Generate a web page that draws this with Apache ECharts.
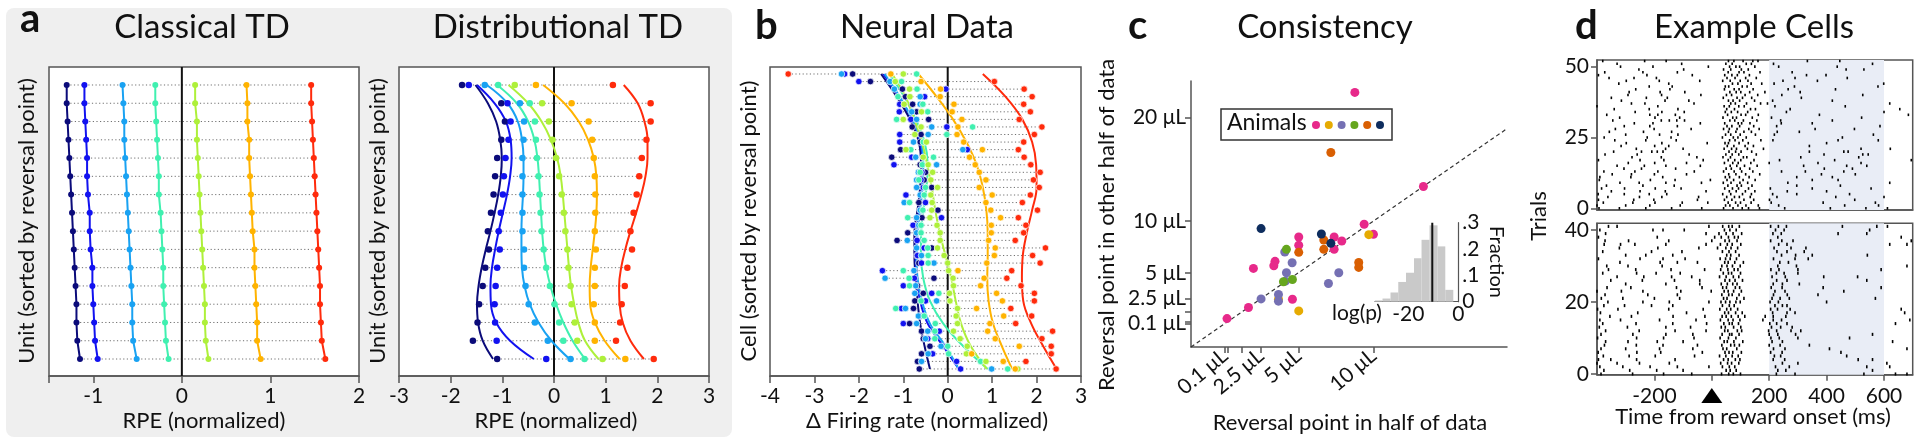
<!DOCTYPE html>
<html>
<head>
<meta charset="utf-8">
<title>Distributional TD figure</title>
<script src="https://cdn.jsdelivr.net/npm/echarts@6/dist/echarts.min.js"></script>
<style>
  html, body { margin: 0; padding: 0; background: #fff; }
  #main { width: 1920px; height: 444px; }
</style>
</head>
<body>
<div id="main"></div>
<script>
var FONT = 'Lato';
var INK = '#111';
var AXIS = '#555';

// jet-like colours, smallest to largest reward
var jetColors = ['#0b0b7a', '#1212f0', '#19a2f2', '#40f0b0', '#aef03a', '#ffb300', '#ff2b0c'];

// a: Classical TD, one list per reward size, top unit first
var classicalTD = [
    [-1.30, -1.30, -1.29, -1.28, -1.27, -1.26, -1.25, -1.24, -1.23, -1.22, -1.21, -1.20, -1.19, -1.19, -1.18, -1.15],
    [-1.10, -1.10, -1.09, -1.08, -1.07, -1.07, -1.06, -1.04, -1.04, -1.03, -1.01, -1.01, -1.00, -0.99, -0.98, -0.95],
    [-0.67, -0.66, -0.65, -0.65, -0.64, -0.63, -0.62, -0.61, -0.60, -0.59, -0.58, -0.57, -0.56, -0.56, -0.55, -0.51],
    [-0.30, -0.30, -0.29, -0.28, -0.27, -0.26, -0.26, -0.24, -0.23, -0.22, -0.21, -0.21, -0.20, -0.19, -0.18, -0.15],
    [0.15, 0.15, 0.17, 0.17, 0.18, 0.19, 0.20, 0.21, 0.22, 0.23, 0.24, 0.25, 0.26, 0.26, 0.27, 0.30],
    [0.73, 0.74, 0.74, 0.76, 0.76, 0.77, 0.78, 0.79, 0.80, 0.82, 0.82, 0.83, 0.84, 0.85, 0.85, 0.89],
    [1.46, 1.46, 1.47, 1.48, 1.49, 1.50, 1.51, 1.52, 1.53, 1.54, 1.55, 1.56, 1.56, 1.57, 1.58, 1.62]
];

// a: Distributional TD points and fitted curves
var distributionalTD = [
    [-1.78, -1.02, -0.95, -1.02, -1.10, -1.14, -1.17, -1.22, -1.28, -1.26, -1.33, -1.38, -1.45, -1.48, -1.57, -1.10],
    [-1.65, -0.90, -0.84, -0.88, -0.94, -0.97, -0.99, -1.03, -1.07, -1.05, -1.10, -1.13, -1.15, -1.14, -1.11, -0.15],
    [-1.34, -0.66, -0.58, -0.59, -0.61, -0.61, -0.61, -0.61, -0.61, -0.58, -0.58, -0.55, -0.49, -0.37, -0.12, 0.32],
    [-1.08, -0.47, -0.37, -0.35, -0.33, -0.30, -0.28, -0.26, -0.24, -0.20, -0.15, -0.08, 0.01, 0.10, 0.18, 0.59],
    [-0.76, -0.23, -0.10, -0.03, 0.04, 0.10, 0.15, 0.19, 0.22, 0.26, 0.28, 0.32, 0.34, 0.40, 0.45, 0.94],
    [-0.35, 0.34, 0.67, 0.74, 0.77, 0.79, 0.80, 0.80, 0.79, 0.81, 0.79, 0.79, 0.77, 0.79, 0.79, 1.38],
    [1.14, 1.87, 1.87, 1.79, 1.70, 1.65, 1.60, 1.54, 1.48, 1.51, 1.42, 1.37, 1.31, 1.28, 1.20, 1.93]
];
var distributionalFit = [
    [-1.52, -1.28, -1.12, -1.04, -1.01, -1.03, -1.08, -1.15, -1.23, -1.32, -1.40, -1.46, -1.49, -1.47, -1.38, -1.18],
    [-1.49, -1.15, -0.93, -0.84, -0.82, -0.85, -0.91, -0.99, -1.07, -1.14, -1.20, -1.23, -1.22, -1.12, -0.85, -0.39],
    [-1.30, -0.90, -0.70, -0.62, -0.59, -0.59, -0.60, -0.62, -0.63, -0.63, -0.62, -0.57, -0.47, -0.30, -0.05, 0.30],
    [-1.10, -0.72, -0.50, -0.38, -0.32, -0.29, -0.27, -0.25, -0.23, -0.20, -0.15, -0.07, 0.04, 0.18, 0.36, 0.60],
    [-0.88, -0.50, -0.24, -0.06, 0.06, 0.13, 0.17, 0.20, 0.23, 0.26, 0.29, 0.33, 0.39, 0.47, 0.60, 0.86],
    [-0.21, 0.20, 0.48, 0.66, 0.77, 0.82, 0.83, 0.82, 0.79, 0.75, 0.71, 0.69, 0.70, 0.79, 0.98, 1.27],
    [1.35, 1.62, 1.75, 1.81, 1.81, 1.77, 1.69, 1.59, 1.48, 1.38, 1.30, 1.26, 1.27, 1.33, 1.48, 1.74]
];

// b: Neural data, 40 cells, top cell first
var neuralData = [
    [-2.14, -1.74, -1.02, -0.95, -0.79, -0.70, -0.43, -0.80, -0.60, -0.62, -1.06, -1.26, -0.62, -0.50, -0.53, -0.36, -0.59, -0.65, -0.22, -0.58,
     -0.70, -0.90, -1.14, -0.36, -0.70, -0.65, -0.74, -0.31, -0.68, -0.55, -0.74, -0.77, -0.60, -0.86, -0.59, -0.55, -0.40, -0.59, -0.68, -0.64],
    [-2.32, -2.00, -0.04, -0.52, -1.08, -1.09, -0.83, -0.02, -1.08, -1.08, 0.44, -0.81, -1.21, -0.58, -0.60, -0.55, -0.94, -0.50, -0.58, -0.14,
     -0.78, -0.69, -0.69, -0.53, -0.68, -0.59, -1.47, -0.75, -1.00, -0.36, -0.50, -1.04, -0.62, -1.00, -0.19, -0.45, -0.10, -0.34, 0.20, 0.29],
    [-2.39, -1.30, -1.20, -0.62, -0.62, -0.81, -0.70, -0.36, -0.44, -0.77, 0.34, -0.72, -0.25, -0.66, -0.70, -0.70, -0.62, -0.98, -0.62, -0.70,
     -0.65, -0.70, -0.91, -0.70, -0.59, -0.31, -0.76, -1.41, -0.72, -0.74, -0.25, -0.95, -0.66, -0.70, -0.45, -0.50, -0.15, -0.44, -0.59, 0.99],
    [-0.70, -1.04, -0.69, -1.12, -0.56, -0.45, -1.15, 0.56, -0.02, -0.55, -0.83, -0.32, -0.57, -0.62, -0.65, -0.50, -0.53, -0.86, -0.56, -0.90,
     -0.60, -0.60, -0.53, -0.45, -0.44, -0.44, -1.00, -0.87, -0.86, -0.20, -0.60, -1.17, -0.53, -0.28, -0.29, -0.29, 0.00, 0.02, 0.74, 1.35],
    [-1.00, -1.18, -0.86, -0.85, -0.98, -0.59, -1.00, -0.60, -0.74, -0.48, -0.94, -0.55, -0.44, -0.34, -0.38, -0.23, -0.38, -0.35, -0.36, -0.40,
     -0.24, -0.17, -0.17, -0.23, -0.08, 0.00, 0.02, 0.12, 0.13, 0.04, 0.05, 0.22, 0.19, 0.22, 0.13, 0.28, 0.44, 0.42, 0.86, 1.58],
    [-1.28, -0.60, -0.16, -0.17, 0.14, 0.10, 0.32, 0.23, 0.21, 0.36, 0.78, 0.49, 0.62, 0.71, 0.86, 0.71, 1.00, 0.86, 0.97, 1.19,
     0.98, 0.98, 0.92, 1.07, 1.05, 0.88, 0.23, 0.82, 0.74, 1.10, 1.23, 0.65, 1.26, 0.95, 0.90, 1.07, 1.61, 0.54, 1.25, 1.52],
    [-3.59, 1.05, 1.72, 1.90, 1.71, 1.86, 1.61, 2.12, 1.95, 1.71, 1.59, 1.72, 1.87, 2.08, 1.93, 2.06, 1.86, 1.68, 2.02, 1.59,
     1.76, 1.71, 1.52, 2.20, 1.91, 2.08, 1.44, 1.33, 1.65, 1.95, 1.95, 1.42, 1.89, 1.53, 2.36, 2.12, 2.33, 2.33, 1.76, 2.44]
];
var neuralFitRows = [0, 3, 6, 9, 12, 15, 18, 21, 24, 27, 30, 33, 36, 39];
var neuralFit = [
    [-1.50, -1.15, -0.85, -0.65, -0.60, -0.62, -0.68, -0.75, -0.75, -0.72, -0.68, -0.62, -0.52, -0.40],
    [-1.45, -1.10, -0.80, -0.62, -0.56, -0.58, -0.64, -0.70, -0.72, -0.70, -0.62, -0.45, -0.10, 0.25],
    [-1.42, -1.08, -0.80, -0.60, -0.55, -0.57, -0.62, -0.68, -0.70, -0.68, -0.58, -0.40, -0.05, 0.25],
    [-1.32, -0.98, -0.72, -0.52, -0.45, -0.48, -0.55, -0.60, -0.60, -0.55, -0.40, -0.10, 0.35, 0.90],
    [-1.25, -0.95, -0.75, -0.58, -0.46, -0.36, -0.28, -0.18, -0.05, 0.08, 0.18, 0.30, 0.52, 0.88],
    [-0.66, -0.25, 0.12, 0.42, 0.65, 0.79, 0.87, 0.90, 0.90, 0.89, 0.92, 1.02, 1.22, 1.45],
    [0.79, 1.30, 1.68, 1.90, 1.99, 2.00, 1.90, 1.78, 1.69, 1.67, 1.70, 1.88, 2.15, 2.45]
];

// c: reversal points (uL) in one half vs the other half, per animal
var animalColors = ['#e7298a', '#e6ab02', '#7570b3', '#66a61e', '#d95f02', '#0e2d5e'];
var animalPink = [[8.76, 22.4], [13.33, 13.32], [9.38, 9.68], [10.0, 8.71], [7.38, 8.45], [7.89, 8.06], [7.38, 7.26], [5.02, 8.45],
    [5.02, 7.65], [3.44, 6.10], [3.36, 5.68], [2.0, 5.42], [4.6, 2.45], [1.67, 1.65], [0.24, 0.58]];
var animalYellow = [[9.69, 8.68], [3.67, 2.45], [5.02, 1.32]];
var animalLavender = [[4.09, 7.0], [4.58, 5.97], [4.2, 5.0], [4.13, 4.19], [7.69, 5.0], [7.0, 3.97], [3.67, 2.9], [3.67, 2.26], [2.51, 2.48]];
var animalGreen = [[4.2, 7.26], [4.0, 4.13], [4.6, 4.35]];
var animalOrange = [[7.16, 16.6], [6.69, 8.16], [6.69, 7.26], [5.02, 6.97], [9.02, 6.0], [9.02, 5.52]];
var animalNavy = [[2.51, 9.26], [6.53, 8.74], [7.16, 7.84]];
var consistencyTicksX = [0.1, 0.3, 1.2, 2.5, 5, 10];
var consistencyLabelsX = [0.1, 2.5, 5, 10];
var consistencyTicksY = [0.1, 0.3, 1.2, 2.5, 5, 10, 20];
var consistencyLabelsY = [0.1, 2.5, 5, 10, 20];
var consistencyMin = -2.16;

// c inset: histogram of log(p)
var histEdges = [-33.3, -30.3, -27.1, -24.0, -20.9, -17.7, -14.7, -11.5, -8.3, -5.2, -2.0];
var histFraction = [0.005, 0.012, 0.035, 0.075, 0.11, 0.165, 0.235, 0.29, 0.21, 0.045];
var medianLogP = -10.4;

// d: spike times (ms) per trial, highest trial first
var rasterTop = [
    '-380 -234 -159 58 77 109 143 161 333 446',
    '-330 -105 49 71 120 138 215 560',
    '-318 -205 -12 62 84 97 150 233 437',
    '-254 -98 41 66 103 127 468 530',
    '-373 -240 -120 57 95 112 168 280',
    '-395 -226 -68 45 70 89 131 330 398',
    '-358 -271 -193 53 81 118 155 290 472',
    '-298 -183 -42 38 64 99 126 248 368',
    '-324 -150 72 91 137 174 217 599',
    '-404 -218 -138 47 59 106 123 288 579',
    '-265 -146 44 78 95 144 266 431',
    '-288 -180 -94 63 85 101 132 185 308',
    '-292 -175 -38 51 69 116 160 244 526',
    '-350 -228 -155 40 88 107 139 312',
    '-315 -163 -80 58 74 97 149 212 420',
    '-280 -233 -62 66 82 121 170 194 620',
    '-400 -188 43 61 94 113 220 465',
    '-340 -218 -118 52 79 135 152 273 655',
    '-267 -174 -96 47 68 90 125 260 600',
    '-366 -216 -188 -127 55 102 118 162 375 685',
    '-321 -198 -112 39 73 86 141 208 522',
    '-345 -176 -148 -122 -95 63 80 110 157 240 420',
    '-270 -205 -40 45 92 104 133 242 350',
    '-305 -216 -120 53 70 97 146 226 586',
    '-336 -201 -72 41 61 88 129 165 360 497',
    '-357 -238 -140 58 84 112 138 228 305',
    '-300 -182 -118 48 66 99 152 218 563',
    '-375 -225 -142 37 75 91 120 455',
    '-338 -230 -124 62 81 108 171 213 440 580',
    '-298 -174 -16 46 58 95 127 400',
    '-316 -199 -150 54 77 116 145 340',
    '-263 -161 -100 43 69 86 124 180 520 622',
    '-342 -245 -209 -190 -170 60 83 102 139 340 460 475',
    '-372 -260 -79 49 71 94 155 391 526 545',
    '-278 -176 -52 39 65 110 122 310 512',
    '-395 -250 -167 -30 57 80 101 147 236 428 695',
    '-291 -199 -88 44 73 92 136 200 370 520',
    '-330 -235 -160 -40 64 87 114 158 320 470 540',
    '-306 -245 -126 50 68 99 132 392 490',
    '-376 -268 -188 -61 41 78 104 143 243 326 460',
    '-347 -280 -200 -88 59 84 118 167 382 500',
    '-390 -282 -171 47 62 96 130 296 420',
    '-392 -214 -128 -5 53 76 109 151 350 440',
    '-320 -253 -160 -36 40 67 98 125 265 620',
    '-367 -240 -131 56 88 103 140 296 448',
    '-384 -304 -197 -107 45 72 93 128 204 350 555',
    '-350 -250 -162 -20 61 85 117 150 263 400',
    '-396 -305 -218 -157 38 66 107 138 212 296 480',
    '-362 -252 -174 -46 52 79 96 134 227 432 600',
    '-395 -272 -202 -50 44 70 112 146 201 498',
    '-378 -275 -198 -103 -14 57 83 100 137 207 388 570',
    '-400 -300 -216 -110 48 63 91 119 162 233 463 581',
    '-393 -322 -230 -140 -35 41 74 106 128 166 254 413 537 612'
];
var rasterBottom = [
    '-360 -330 -10 38 59 71 96 205 232 260 455 575 612',
    '-390 -205 -170 -96 44 63 85 222 252 550',
    '-370 -20 25 50 74 104 213 242 440 540',
    '-395 -190 10 33 58 79 92 230 660',
    '-372 -290 -150 0 46 61 88 205 244 283 695',
    '-375 -318 -268 -160 -20 30 54 71 101 233 262 620 680',
    '-322 -188 -45 20 49 67 90 217 276 328',
    '-380 -210 -104 37 60 83 227 262 322',
    '-300 -230 -136 52 66 95 243 292 350 542',
    '-395 -250 -170 -93 29 48 64 86 215 290 336',
    '-320 -180 -120 -50 45 57 80 110 237 267',
    '-366 -292 -173 35 53 72 99 230 295 680',
    '-360 -265 -142 -25 31 56 78 91 206 234 300 590',
    '-380 -262 -194 -110 40 58 69 100 225 252 300',
    '-330 -237 -140 -70 27 50 75 94 210 256 390 508',
    '-352 -242 -130 -42 46 62 81 107 226 262 540',
    '-300 -160 -42 33 54 73 88 214 246 305',
    '-365 -282 -123 -34 38 51 82 97 207 245 388 590',
    '-400 -315 -240 -108 -2 43 57 76 103 220 255 460',
    '-372 -223 -120 35 59 71 95 215 263 370',
    '-385 -310 -200 -112 41 53 87 112 210 238 270 570',
    '-362 -240 -148 -10 32 48 63 84 99 203 232 400',
    '-376 -304 -210 -136 37 61 78 220 246 262',
    '-398 -327 -150 -30 28 52 66 90 205 229 273 660',
    '-388 -258 -88 45 58 83 106 212 262 290 672',
    '-355 -280 -135 -24 36 50 68 92 115 186 214 258',
    '-390 -318 -182 -55 30 57 74 98 178 214 243 690',
    '-380 -264 -136 -18 42 61 71 93 202 226 262 640',
    '-392 -294 -160 -74 33 47 76 101 208 240 280',
    '-370 -253 -128 -20 45 56 89 104 198 226 276 310',
    '-386 -275 -160 -66 36 62 70 95 200 230 292 560',
    '-398 -262 -168 -62 29 58 84 206 235 300 480',
    '-370 -292 -190 -100 43 54 77 108 210 246 630',
    '-374 -263 -170 -50 35 66 79 96 200 238 340',
    '-386 -300 -182 -66 39 52 87 215 255 410 680',
    '-396 -261 -178 -33 46 60 73 103 205 245 450',
    '-378 -288 -197 -60 27 49 71 92 218 240 470',
    '-395 -352 -262 -128 41 57 82 98 214 254 510 560',
    '-400 -330 -252 -148 31 55 69 94 246 300 610',
    '-390 -310 -215 -120 -10 37 61 80 222 270 540 620',
    '-376 -286 -192 -100 50 64 85 230 258 560',
    '-386 -276 -168 -70 34 59 75 100 225 290 530 640 680'
];
var shadedWindow = [200, 600];
var rewardOnset = 0;

// ---------- helpers ----------
function rowSpans(cols) {
    var out = [];
    for (var r = 0; r < cols[0].length; r++) {
        var lo = Infinity, hi = -Infinity;
        for (var c = 0; c < cols.length; c++) {
            lo = Math.min(lo, cols[c][r]);
            hi = Math.max(hi, cols[c][r]);
        }
        out.push([lo, hi, r]);
    }
    return out;
}
function pairs(vals, rows) {
    return vals.map(function (v, i) { return [v, rows ? rows[i] : i]; });
}
function dottedRows(cols, ax) {
    return {
        type: 'custom', xAxisIndex: ax, yAxisIndex: ax, z: 1, silent: true,
        encode: {x: [0, 1], y: 2},
        data: rowSpans(cols),
        renderItem: function (params, api) {
            var a = api.coord([api.value(0), api.value(2)]);
            var b = api.coord([api.value(1), api.value(2)]);
            return {
                type: 'line',
                shape: {x1: a[0], y1: a[1], x2: b[0], y2: b[1]},
                style: {stroke: '#707070', lineWidth: 1, lineDash: [1.2, 2.4]}
            };
        }
    };
}
function zeroLine(ax) {
    return {
        type: 'custom', xAxisIndex: ax, yAxisIndex: ax, z: 2, silent: true,
        data: [[0, 0]],
        renderItem: function (params, api) {
            var p = api.coord([0, 0]);
            var cs = params.coordSys;
            return {
                type: 'line',
                shape: {x1: p[0], y1: cs.y, x2: p[0], y2: cs.y + cs.height},
                style: {stroke: INK, lineWidth: 2}
            };
        }
    };
}
function rasterPoints(list) {
    var pts = [];
    list.forEach(function (s, i) {
        var trial = list.length - 1 - i;
        s.split(' ').forEach(function (t) { pts.push([Number(t), trial]); });
    });
    return pts;
}
function boxGrid(left, top, width, height) {
    return {
        left: left, top: top, width: width, height: height,
        show: true, backgroundColor: '#fff', borderColor: AXIS, borderWidth: 1.5,
        containLabel: false, outerBoundsMode: 'none'
    };
}
function text(x, y, s, size, extra) {
    var el = {
        type: 'text', x: x, y: y, z: 50,
        style: {
            text: s, fontFamily: FONT, fontSize: size, fill: INK,
            align: 'center', verticalAlign: 'middle',
            textAlign: 'center', textVerticalAlign: 'middle'
        }
    };
    if (extra) {
        for (var k in extra) {
            if (k === 'style') {
                for (var j in extra.style) { el.style[j] = extra.style[j]; }
            } else {
                el[k] = extra[k];
            }
        }
    }
    return el;
}
var tickStyle = {color: AXIS, width: 1.5};
var labelStyle = {color: INK, fontSize: 21, fontFamily: FONT};

// ---------- series ----------
var series = [];

// a, classical
series.push(dottedRows(classicalTD, 0), zeroLine(0));
classicalTD.forEach(function (col, c) {
    series.push({
        type: 'line', xAxisIndex: 0, yAxisIndex: 0, z: 4,
        data: pairs(col), symbol: 'circle', symbolSize: 6,
        lineStyle: {color: jetColors[c], width: 2},
        itemStyle: {color: jetColors[c]}
    });
});

// a, distributional
series.push(dottedRows(distributionalTD, 1), zeroLine(1));
distributionalFit.forEach(function (col, c) {
    series.push({
        type: 'line', xAxisIndex: 1, yAxisIndex: 1, z: 3, smooth: 0.4,
        data: pairs(col), showSymbol: false, silent: true,
        lineStyle: {color: jetColors[c], width: 2}
    });
});
distributionalTD.forEach(function (col, c) {
    series.push({
        type: 'scatter', xAxisIndex: 1, yAxisIndex: 1, z: 4,
        data: pairs(col), symbolSize: 6.5,
        itemStyle: {color: jetColors[c], opacity: 1}
    });
});

// b, neural data
series.push(dottedRows(neuralData, 2), zeroLine(2));
neuralFit.forEach(function (col, c) {
    series.push({
        type: 'line', xAxisIndex: 2, yAxisIndex: 2, z: 3, smooth: 0.4,
        data: pairs(col, neuralFitRows), showSymbol: false, silent: true,
        lineStyle: {color: jetColors[c], width: 2}
    });
});
neuralData.forEach(function (col, c) {
    series.push({
        type: 'scatter', xAxisIndex: 2, yAxisIndex: 2, z: 4,
        data: pairs(col), symbolSize: 6.5,
        itemStyle: {color: jetColors[c], borderColor: '#fff', borderWidth: 0.7, opacity: 1}
    });
});

// c, consistency
var consistencyMax = 18.9;
series.push({
    type: 'line', xAxisIndex: 3, yAxisIndex: 3, z: 3, silent: true, showSymbol: false,
    data: [[consistencyMin, consistencyMin], [consistencyMax, consistencyMax]],
    lineStyle: {color: '#333', width: 1.2, type: [4, 3]}
});
[animalPink, animalYellow, animalLavender, animalGreen, animalOrange, animalNavy].forEach(function (pts, a) {
    series.push({
        type: 'scatter', xAxisIndex: 3, yAxisIndex: 3, z: 4,
        data: pts, symbolSize: 9,
        itemStyle: {color: animalColors[a], opacity: 1}
    });
});

// c inset
series.push({
    type: 'custom', xAxisIndex: 4, yAxisIndex: 4, z: 3, silent: true,
    encode: {x: [0, 1], y: 2},
    data: histFraction.map(function (f, i) { return [histEdges[i], histEdges[i + 1], f]; }),
    renderItem: function (params, api) {
        var a = api.coord([api.value(0), api.value(2)]);
        var b = api.coord([api.value(1), 0]);
        return {type: 'rect', shape: {x: a[0], y: a[1], width: b[0] - a[0], height: b[1] - a[1]},
            style: {fill: '#c9c9c9'}};
    }
});
series.push({
    type: 'line', xAxisIndex: 4, yAxisIndex: 4, z: 4, silent: true, showSymbol: false,
    data: [[medianLogP, 0], [medianLogP, 0.3]],
    lineStyle: {color: INK, width: 2}
});

// d, rasters
function rasterSeries(list, ax, h) {
    return {
        type: 'scatter', xAxisIndex: ax, yAxisIndex: ax, z: 4, silent: true,
        data: rasterPoints(list), symbol: 'rect', symbolSize: [1.6, h],
        itemStyle: {color: '#000', opacity: 1},
        markArea: {
            silent: true, itemStyle: {color: '#e9edf6'},
            data: [[{xAxis: shadedWindow[0]}, {xAxis: shadedWindow[1]}]]
        }
    };
}
series.push(rasterSeries(rasterTop, 5, 2.6), rasterSeries(rasterBottom, 6, 3.1));

// ---------- axes ----------
function valueX(grid, min, max, ticks, labels, margin) {
    return {
        gridIndex: grid, type: 'value', min: min, max: max, splitLine: {show: false},
        axisLine: {show: true, onZero: false, lineStyle: tickStyle},
        axisTick: {show: true, length: 7, customValues: ticks, lineStyle: tickStyle},
        axisLabel: Object.assign({customValues: labels, margin: margin}, labelStyle)
    };
}

var xAxis = [
    valueX(0, -1.5, 2, [-1.5, -1, 0, 1, 2], [-1, 0, 1, 2], 10),
    valueX(1, -3, 3, [-3, -2, -1, 0, 1, 2, 3], [-3, -2, -1, 0, 1, 2, 3], 10),
    valueX(2, -4, 3, [-4, -3, -2, -1, 0, 1, 2, 3], [-4, -3, -2, -1, 0, 1, 2, 3], 10),
    {gridIndex: 3, type: 'value', min: consistencyMin, max: consistencyMax, splitLine: {show: false},
        axisLine: {show: true, onZero: false, lineStyle: tickStyle},
        axisTick: {show: true, length: 6, customValues: consistencyTicksX, lineStyle: tickStyle},
        axisLabel: Object.assign({customValues: consistencyLabelsX, rotate: 40, margin: 6,
            formatter: function (v) { return v + ' μL'; }}, labelStyle)},
    {gridIndex: 4, type: 'value', min: -33.3, max: 0, splitLine: {show: false},
        axisLine: {show: true, onZero: false, lineStyle: {color: AXIS, width: 1.2}},
        axisTick: {show: false},
        axisLabel: Object.assign({customValues: [-20, 0], margin: 2}, labelStyle)},
    {gridIndex: 5, type: 'value', min: -400, max: 700, splitLine: {show: false},
        axisLine: {show: true, onZero: false, lineStyle: tickStyle}, axisTick: {show: false}, axisLabel: {show: false}},
    {gridIndex: 6, type: 'value', min: -400, max: 700, splitLine: {show: false},
        axisLine: {show: true, onZero: false, lineStyle: tickStyle},
        axisTick: {show: true, length: 6, customValues: [-200, 0, 200, 400, 600], lineStyle: tickStyle},
        axisLabel: Object.assign({customValues: [-200, 200, 400, 600], margin: 11}, labelStyle)}
];

var yAxis = [
    {gridIndex: 0, type: 'value', inverse: true, min: -0.985, max: 15.93, show: false},
    {gridIndex: 1, type: 'value', inverse: true, min: -0.985, max: 15.93, show: false},
    {gridIndex: 2, type: 'value', inverse: true, min: -0.925, max: 39.93, show: false},
    {gridIndex: 3, type: 'value', min: consistencyMin, max: 23.5, splitLine: {show: false},
        axisLine: {show: true, onZero: false, lineStyle: tickStyle},
        axisTick: {show: true, length: 6, customValues: consistencyTicksY, lineStyle: tickStyle},
        axisLabel: Object.assign({customValues: consistencyLabelsY, margin: 5,
            formatter: function (v) { return v + ' μL'; }}, labelStyle)},
    {gridIndex: 4, type: 'value', position: 'right', min: 0, max: 0.3, splitLine: {show: false},
        axisLine: {show: true, onZero: false, lineStyle: {color: AXIS, width: 1.2}},
        axisTick: {show: false},
        axisLabel: Object.assign({customValues: [0, 0.1, 0.2, 0.3], margin: 4,
            formatter: function (v) { return v === 0 ? '0' : String(v).replace('0.', '.'); }}, labelStyle)},
    {gridIndex: 5, type: 'value', min: -0.6, max: 52.35, splitLine: {show: false},
        axisLine: {show: true, onZero: false, lineStyle: tickStyle},
        axisTick: {show: true, length: 6, customValues: [0, 25, 50], lineStyle: tickStyle},
        axisLabel: Object.assign({customValues: [0, 25, 50], margin: 8}, labelStyle)},
    {gridIndex: 6, type: 'value', min: -0.2, max: 41.86, splitLine: {show: false},
        axisLine: {show: true, onZero: false, lineStyle: tickStyle},
        axisTick: {show: true, length: 6, customValues: [0, 20, 40], lineStyle: tickStyle},
        axisLabel: Object.assign({customValues: [0, 20, 40], margin: 8}, labelStyle)}
];

var grid = [
    boxGrid(49, 67, 310, 309),
    boxGrid(399, 67, 310, 309),
    boxGrid(770, 67, 311, 309),
    {left: 1191, top: 81, width: 316, height: 266, show: false, outerBoundsMode: 'none'},
    {left: 1375, top: 222.7, width: 83.3, height: 79, show: false, outerBoundsMode: 'none'},
    boxGrid(1597, 60, 315.7, 150),
    boxGrid(1597, 223.3, 315.7, 151.4)
];

// ---------- texts and decorations ----------
var titleSize = 33, letterSize = 40, nameSize = 22;
var graphic = [
    {type: 'rect', id: 'bgA', z: -10, shape: {x: 6, y: 8, width: 726, height: 429, r: 8}, style: {fill: '#efefef'}},
    text(20, 19.5, 'a', letterSize, {id: 'la', style: {fontWeight: 'bold', align: 'left', textAlign: 'left'}}),
    text(755, 26, 'b', letterSize, {id: 'lb', style: {fontWeight: 'bold', align: 'left', textAlign: 'left'}}),
    text(1128, 26, 'c', letterSize, {id: 'lc', style: {fontWeight: 'bold', align: 'left', textAlign: 'left'}}),
    text(1575, 26, 'd', letterSize, {id: 'ld', style: {fontWeight: 'bold', align: 'left', textAlign: 'left'}}),
    text(202, 27, 'Classical TD', titleSize, {id: 't1'}),
    text(558, 27, 'Distributional TD', titleSize, {id: 't2'}),
    text(927, 27, 'Neural Data', titleSize, {id: 't3'}),
    text(1325, 27, 'Consistency', titleSize, {id: 't4'}),
    text(1754, 27, 'Example Cells', titleSize, {id: 't5'}),
    text(204, 421, 'RPE (normalized)', nameSize, {id: 'n1'}),
    text(556, 421, 'RPE (normalized)', nameSize, {id: 'n2'}),
    text(927, 421, 'Δ Firing rate (normalized)', nameSize, {id: 'n3'}),
    text(1350, 423, 'Reversal point in half of data', nameSize, {id: 'n4'}),
    text(1753, 417, 'Time from reward onset (ms)', nameSize, {id: 'n5'}),
    text(27, 221, 'Unit (sorted by reversal point)', nameSize, {id: 'y1', rotation: Math.PI / 2}),
    text(378, 221, 'Unit (sorted by reversal point)', nameSize, {id: 'y2', rotation: Math.PI / 2}),
    text(749, 221, 'Cell (sorted by reversal point)', nameSize, {id: 'y3', rotation: Math.PI / 2}),
    text(1107, 225, 'Reversal point in other half of data', nameSize, {id: 'y4', rotation: Math.PI / 2}),
    text(1539, 216, 'Trials', nameSize, {id: 'y5', rotation: Math.PI / 2}),
    text(1496, 262, 'Fraction', 20, {id: 'y6', rotation: -Math.PI / 2}),
    text(1357, 313, 'log(p)', 21, {id: 'n6'}),
    {type: 'rect', id: 'legBox', z: 40, shape: {x: 1221, y: 109, width: 171, height: 31},
        style: {fill: '#fff', stroke: '#333', lineWidth: 1.5}},
    text(1227, 123, 'Animals', 23, {id: 'legText', style: {align: 'left', textAlign: 'left'}})
];
animalColors.forEach(function (col, i) {
    graphic.push({type: 'circle', id: 'legDot' + i, z: 51, shape: {cx: 1316 + i * 12.8, cy: 125, r: 4}, style: {fill: col}});
});

var option = {
    animation: false,
    backgroundColor: '#fff',
    textStyle: {fontFamily: FONT, color: INK},
    grid: grid,
    xAxis: xAxis,
    yAxis: yAxis,
    series: series,
    graphic: {elements: graphic}
};

var chart = echarts.init(document.getElementById('main'), null, {renderer: 'canvas'});
chart.setOption(option);

// reward onset marker below the lower raster
var onset = chart.convertToPixel({xAxisIndex: 6, yAxisIndex: 6}, [rewardOnset, 0]);
chart.setOption({
    graphic: {elements: [{
        type: 'polygon', id: 'onsetMarker', z: 60,
        shape: {points: [[onset[0] - 10.5, onset[1] + 29], [onset[0] + 10.5, onset[1] + 29], [onset[0], onset[1] + 14]]},
        style: {fill: '#000'}
    }]}
});
</script>
</body>
</html>
